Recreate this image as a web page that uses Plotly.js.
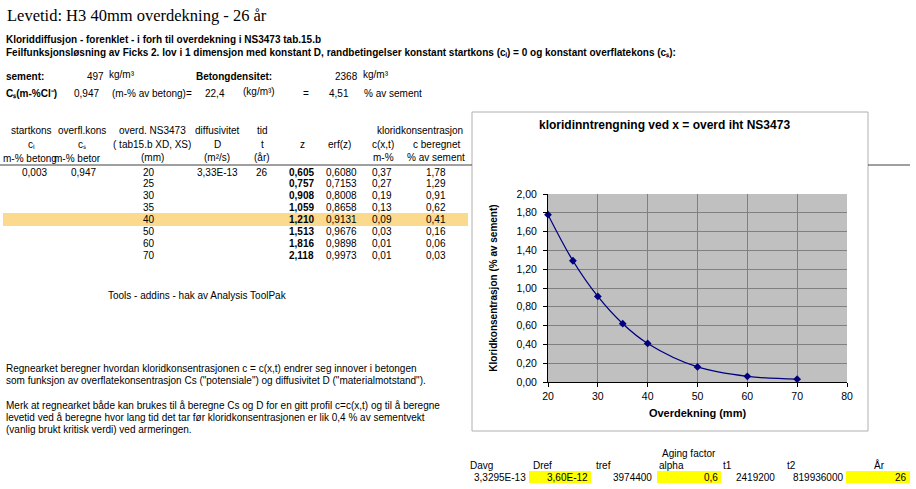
<!DOCTYPE html>
<html><head><meta charset="utf-8">
<script src="https://cdn.plot.ly/plotly-3.0.1.min.js"></script>
<style>html,body{margin:0;padding:0;background:#fff;}#chart{width:916px;height:489px;}</style>
</head><body><div id="chart"></div>
<script>
// ---- data ----
const overd = [20, 25, 30, 35, 40, 50, 60, 70];              // overdekning (mm)
const zVals = [0.605, 0.757, 0.908, 1.059, 1.210, 1.513, 1.816, 2.118];
const erfZ = [0.6080, 0.7153, 0.8008, 0.8658, 0.9131, 0.9676, 0.9898, 0.9973];
const cxt = [0.37, 0.27, 0.19, 0.13, 0.09, 0.03, 0.01, 0.01];  // m-%
const cBer = [1.78, 1.29, 0.91, 0.62, 0.41, 0.16, 0.06, 0.03]; // % av sement
const yTicks = [0, 0.2, 0.4, 0.6, 0.8, 1.0, 1.2, 1.4, 1.6, 1.8, 2.0];
const xTicks = [20, 30, 40, 50, 60, 70, 80];
const agingLabels = ['Davg', 'Dref', 'tref', 'alpha', 't1', 't2', 'År'];
const agingValues = ['3,3295E-13', '3,60E-12', '3974400', '0,6', '2419200', '819936000', '26'];

// ---- geometry helpers ----
const L = 548, R = 847, T = 194, B = 382;
const fx = p => (p - L) / (R - L);
const fy = p => (B - p) / (B - T);
const ARIAL = 'Liberation Sans, Arial, sans-serif';
const fmt = (v, d) => v.toFixed(d).replace('.', ',');
const anns = [];
function A(text, x, y, xa, opt) {
  opt = opt || {};
  anns.push({
    text: text, x: fx(x), y: fy(y), xref: 'paper', yref: 'paper',
    xanchor: xa || 'left', yanchor: 'middle', showarrow: false,
    font: {family: opt.family || ARIAL, size: opt.size || 10, color: '#000'},
    borderpad: 0
  });
}
const bold = s => '<b>' + s + '</b>';

// Sheet title and headers
A('Levetid: H3 40mm overdekning - 26 år', 6, 15, 'left', {family: 'Liberation Serif, Times New Roman, serif', size: 16.5});
A(bold('Kloriddiffusjon - forenklet - i forh til overdekning i NS3473 tab.15.b'), 5, 39);
A(bold('Feilfunksjonsløsning av Ficks 2. lov i 1 dimensjon med konstant D, randbetingelser konstant startkons (cᵢ) = 0 og konstant overflatekons (cₛ):'), 5, 52);

A(bold('sement:'), 5, 76);
A('497', 105, 76, 'right');
A('kg/m³', 108, 75);
A(bold('Betongdensitet:'), 195, 76);
A('2368', 359, 76, 'right');
A('kg/m³', 362, 75);
A(bold('Cₛ(m-%Cl⁻)'), 5, 93);
A('0,947', 73, 93);
A('(m-% av betong)=', 111, 93);
A('22,4', 204, 93);
A('(kg/m³)', 242, 92);
A('=', 302, 93);
A('4,51', 350, 93, 'right');
A('% av sement', 363, 93);

// table header
const hdr1 = [['startkons', 31], ['overfl.kons', 82], ['overd. NS3473', 152], ['diffusivitet', 217], ['tid', 262], ['kloridkonsentrasjon', 420]];
hdr1.forEach(h => A(h[0], h[1], 130, 'center'));
const hdr2 = [['cᵢ', 31], ['cₛ', 82], ['( tab15.b XD, XS)', 152], ['D', 217], ['t', 262], ['z', 302], ['erf(z)', 339], ['c(x,t)', 383], ['c beregnet', 436]];
hdr2.forEach(h => A(h[0], h[1], 144, 'center'));
A('m-% betong', 2, 158);
A('m-% betor', 53, 158);
const hdr3 = [['(mm)', 152], ['(m²/s)', 217], ['(år)', 262], ['m-%', 383], ['% av sement', 436]];
hdr3.forEach(h => A(h[0], h[1], 157, 'center'));

// table rows
A('0,003', 34, 172, 'center');
A('0,947', 83, 172, 'center');
A('3,33E-13', 217, 172, 'center');
A('26', 262, 172, 'center');
overd.forEach((o, i) => {
  const y = 172 + i * 11.9;
  A(String(o), 149, y, 'center');
  A(bold(fmt(zVals[i], 3)), 315, y, 'right');
  A(fmt(erfZ[i], 4), 358, y, 'right');
  A(fmt(cxt[i], 2), 393, y, 'right');
  A(fmt(cBer[i], 2), 447, y, 'right');
});

A('Tools - addins - hak av Analysis ToolPak', 107, 295);
A('Regnearket beregner hvordan kloridkonsentrasjonen c = c(x,t) endrer seg innover i betongen', 5, 368);
A('som funksjon av overflatekonsentrasjon Cs ("potensiale") og diffusivitet D ("materialmotstand").', 5, 380);
A('Merk at regnearket både kan brukes til å beregne Cs og D for en gitt profil c=c(x,t) og til å beregne', 5, 405);
A('levetid ved å beregne hvor lang tid det tar før kloridkonsentrasjonen er lik 0,4 % av sementvekt', 5, 417);
A('(vanlig brukt kritisk verdi) ved armeringen.', 5, 429);

// aging factor table
A('Aging factor', 689, 453, 'center');
const labX = [469, 532, 595, 658, 722, 786, 879];
const labA = ['left', 'left', 'left', 'left', 'left', 'left', 'center'];
agingLabels.forEach((t, i) => A(t, labX[i], 465, labA[i]));
const valX = [527, 589, 653, 719, 776, 844, 908];
agingValues.forEach((t, i) => A(t, valX[i], 477, 'right'));

// chart title
A(bold('kloridinntrengning ved x = overd iht NS3473'), 664, 125, 'center', {size: 12});

// shapes
const shapes = [];
function rect(x0, y0, x1, y1, fill, line) {
  shapes.push({type: 'rect', xref: 'paper', yref: 'paper', x0: fx(x0), x1: fx(x1), y0: fy(y1), y1: fy(y0),
    fillcolor: fill, line: line || {width: 0}, layer: 'below'});
}
function hline(x0, x1, y, color) {
  shapes.push({type: 'line', xref: 'paper', yref: 'paper', x0: fx(x0), x1: fx(x1), y0: fy(y), y1: fy(y),
    line: {color: color, width: 1}});
}
rect(3, 213, 468, 226, '#fbd98d');          // highlighted 40 mm row
rect(529, 471, 591, 483, '#ffff00');
rect(657, 471, 721, 483, '#ffff00');
rect(846, 471, 910, 483, '#ffff00');
hline(0, 472, 165, '#404040');
hline(868, 910, 165, '#404040');
// chart frame
shapes.push({type: 'rect', xref: 'paper', yref: 'paper', x0: fx(472), x1: fx(868), y0: fy(431), y1: fy(112),
  fillcolor: 'rgba(0,0,0,0)', line: {color: '#b0b0b0', width: 1}, layer: 'below'});

const trace = {
  x: overd, y: cBer, type: 'scatter', mode: 'lines+markers',
  line: {color: '#000080', width: 1.3, shape: 'spline', smoothing: 1},
  marker: {symbol: 'diamond', size: 6, color: '#000080'},
  hoverinfo: 'skip', cliponaxis: false
};

const layout = {
  width: 916, height: 489,
  margin: {l: L, r: 916 - R, t: T, b: 489 - B, pad: 0},
  paper_bgcolor: '#ffffff', plot_bgcolor: '#c0c0c0',
  separators: ', ',
  showlegend: false,
  font: {family: ARIAL, size: 10, color: '#000'},
  xaxis: {
    range: [20, 80], tickvals: xTicks, ticktext: xTicks.map(String),
    showgrid: true, gridcolor: '#808080', gridwidth: 1,
    showline: true, linecolor: '#000', linewidth: 1,
    ticks: 'outside', ticklen: 4, tickcolor: '#000',
    zeroline: false, tickfont: {size: 10.5},
    title: {text: '<b>Overdekning (mm)</b>', font: {size: 11}, standoff: 8},
    fixedrange: true, automargin: false
  },
  yaxis: {
    range: [0, 2], tickvals: yTicks, ticktext: yTicks.map(v => fmt(v, 2)),
    showgrid: true, gridcolor: '#808080', gridwidth: 1,
    showline: true, linecolor: '#000', linewidth: 1,
    ticks: 'outside', ticklen: 4, tickcolor: '#000',
    zeroline: false, tickfont: {size: 10.5}, ticklabelstandoff: 4,
    title: {text: '<b>Kloridkonsentrasjon (% av sement)</b>', font: {size: 10}, standoff: 16},
    fixedrange: true, automargin: false
  },
  annotations: anns,
  shapes: shapes
};

Plotly.newPlot('chart', [trace], layout, {staticPlot: true, displayModeBar: false});
</script>
</body></html>
